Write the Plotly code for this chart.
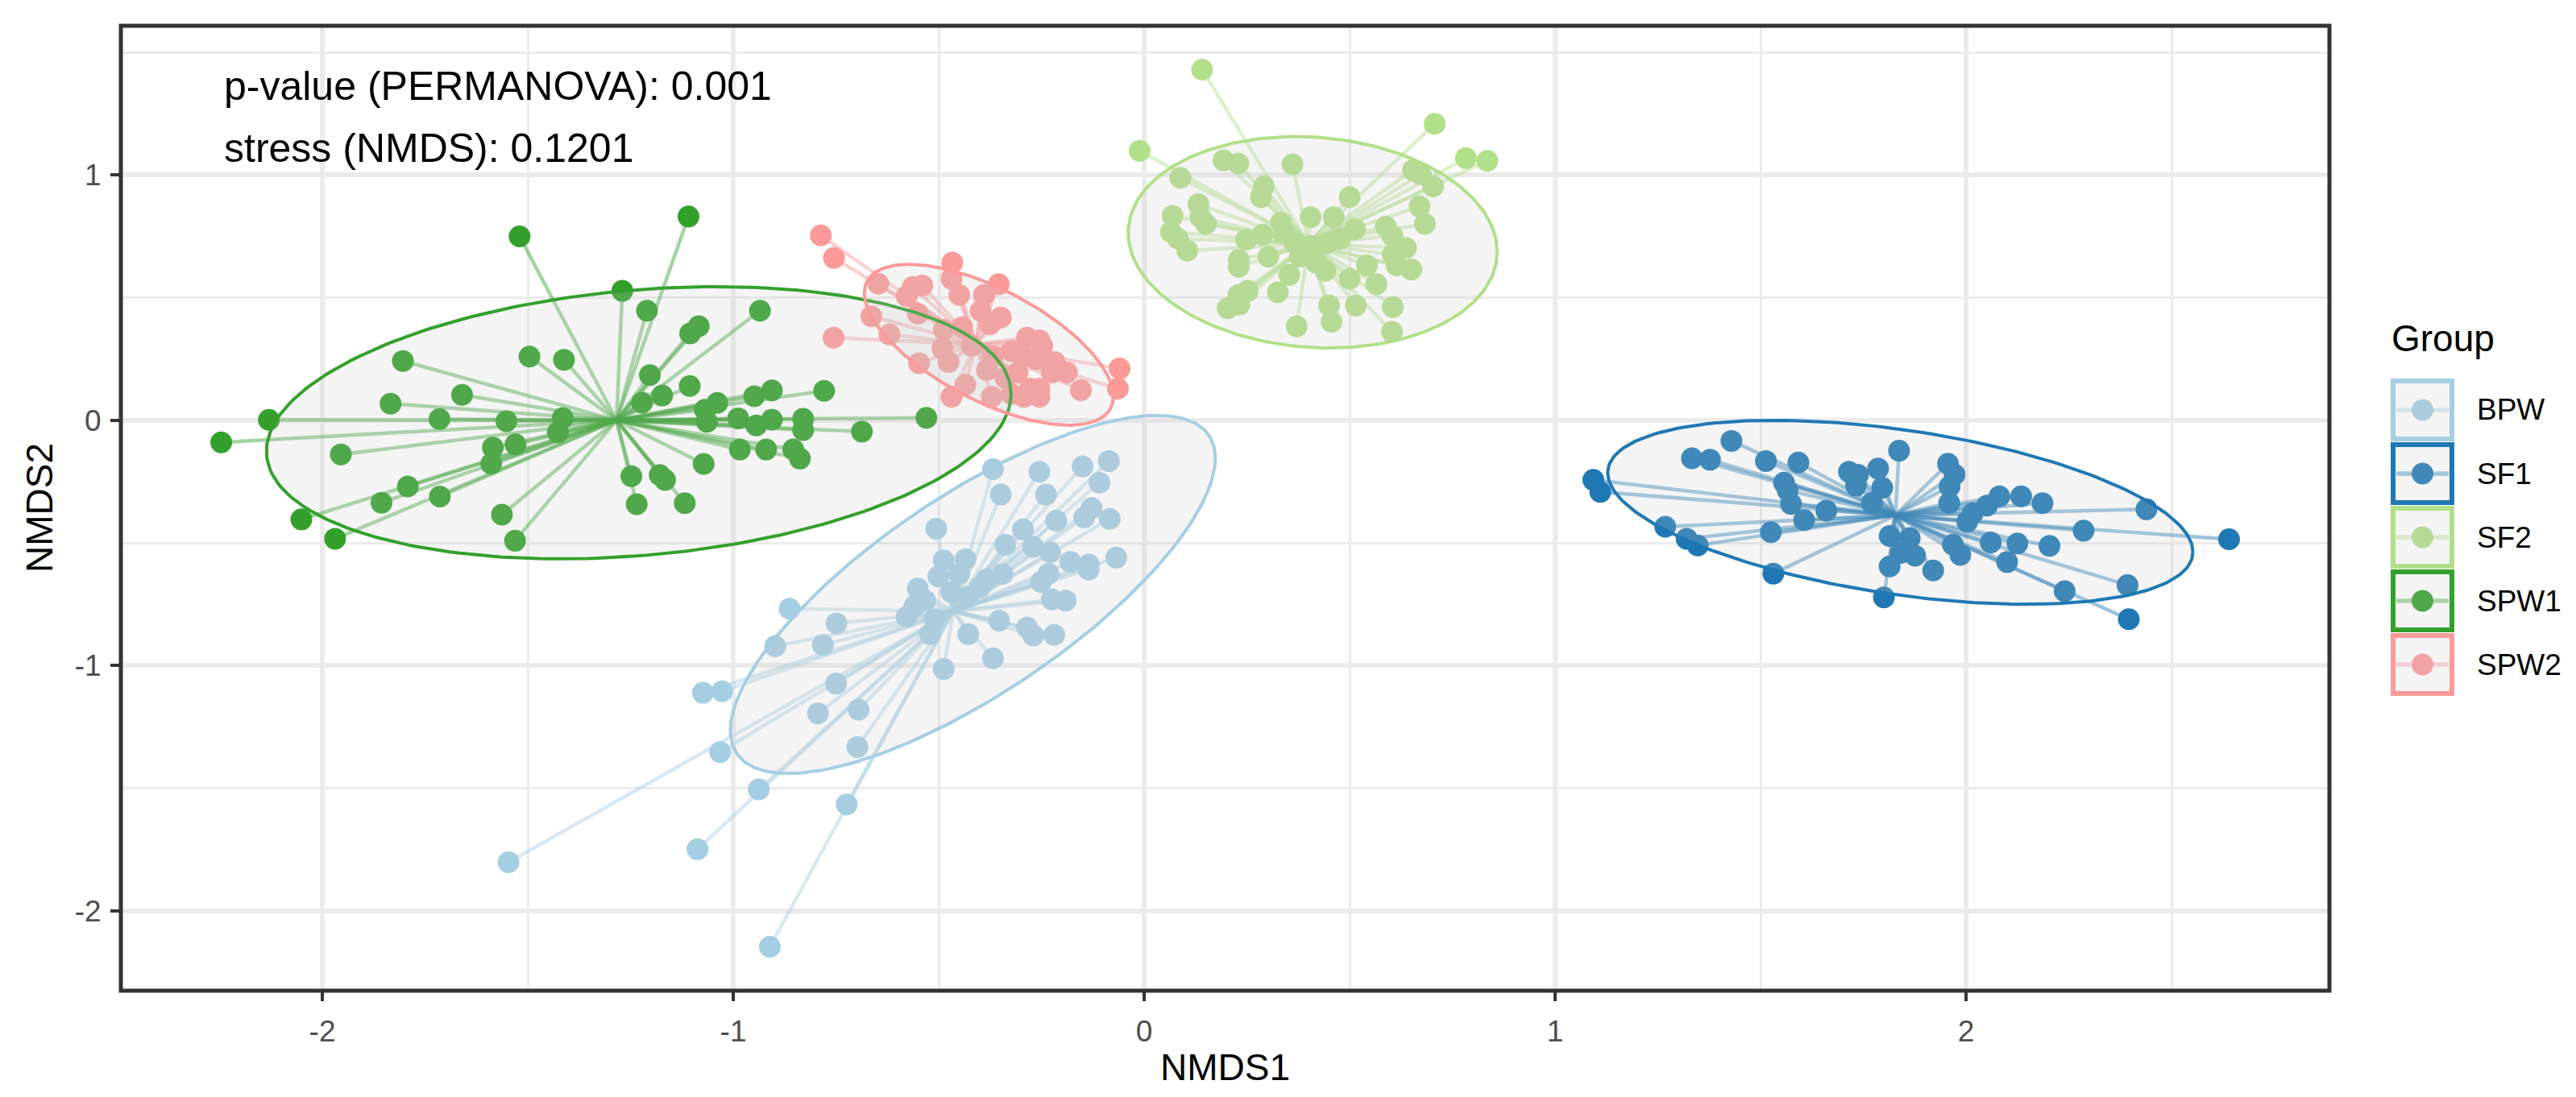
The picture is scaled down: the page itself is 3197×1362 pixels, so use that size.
"""NMDS ordination of sample groups with spiders and ellipses."""

import numpy as np
import plotly.graph_objects as go

# ── Data ──────────────────────────────────────────────────────────────────────

groups = ["BPW", "SF1", "SF2", "SPW1", "SPW2"]
colors = ["#A6CEE3", "#1F78B4", "#B2DF8A", "#33A02C", "#FB9A99"]

bpw_x = [-0.368, -0.255, -0.150, -0.086, -0.349, -0.239, -0.109, -0.214, -0.128, -0.146,
         -0.084, -0.506, -0.295, -0.338, -0.270, -0.229, -0.180, -0.135, -0.135, -0.068,
         -0.488, -0.435, -0.501, -0.450, -0.345, -0.383, -0.233, -0.251, -0.551, -0.225,
         -0.191, -0.428, -0.533, -0.559, -0.578, -0.510, -0.863, -0.749, -0.521, -0.353,
         -0.428, -0.285, -0.270, -0.219, -0.898, -0.782, -0.368, -0.488, -1.074, -1.027,
         -0.750, -0.794, -0.695, -1.032, -0.698, -1.547, -1.087, -0.938, -0.724, -0.911,
         -0.470, -0.400]
bpw_y = [-0.199, -0.210, -0.188, -0.166, -0.303, -0.303, -0.254, -0.409, -0.358, -0.396,
         -0.402, -0.442, -0.445, -0.508, -0.516, -0.538, -0.577, -0.588, -0.609, -0.560,
         -0.571, -0.566, -0.637, -0.626, -0.626, -0.648, -0.626, -0.659, -0.686, -0.730,
         -0.735, -0.719, -0.735, -0.757, -0.801, -0.812, -0.768, -0.828, -0.872, -0.817,
         -0.872, -0.845, -0.877, -0.875, -0.921, -0.916, -0.970, -1.014, -1.111, -1.105,
         -1.074, -1.195, -1.180, -1.353, -1.332, -1.802, -1.749, -1.505, -1.566, -2.147,
         -0.700, -0.680]

sf1_x = [1.093, 1.110, 1.429, 1.333, 1.377, 1.513, 1.592, 1.268, 1.320, 1.347,
         1.525, 1.531, 1.557, 1.566, 1.574, 1.606, 1.660, 1.715, 1.737, 1.786,
         1.837, 1.732, 1.796, 1.771, 1.956, 1.972, 1.960, 1.959, 1.814, 1.863,
         1.841, 1.876, 1.814, 1.920, 1.800, 1.968, 1.986, 2.003, 2.016, 2.051,
         2.060, 2.081, 2.134, 2.186, 2.125, 2.100, 2.203, 2.286, 2.439, 2.640,
         2.240, 2.393, 2.396]
sf1_y = [-0.243, -0.292, -0.084, -0.155, -0.161, -0.166, -0.172, -0.434, -0.483, -0.510,
         -0.456, -0.625, -0.254, -0.286, -0.341, -0.407, -0.368, -0.210, -0.222, -0.197,
         -0.124, -0.266, -0.275, -0.337, -0.177, -0.221, -0.270, -0.337, -0.472, -0.480,
         -0.541, -0.552, -0.596, -0.612, -0.722, -0.507, -0.549, -0.413, -0.380, -0.348,
         -0.498, -0.310, -0.310, -0.338, -0.502, -0.578, -0.512, -0.450, -0.363, -0.485,
         -0.697, -0.672, -0.811]

sf2_x = [0.141, -0.011, 0.707, 0.783, 0.835, 0.193, 0.229, 0.361, 0.088, 0.291,
         0.284, 0.500, 0.654, 0.673, 0.703, 0.132, 0.137, 0.069, 0.150, 0.065,
         0.082, 0.105, 0.670, 0.683, 0.333, 0.405, 0.461, 0.513, 0.588, 0.604,
         0.248, 0.288, 0.340, 0.230, 0.230, 0.302, 0.366, 0.405, 0.444, 0.477,
         0.379, 0.418, 0.637, 0.605, 0.614, 0.650, 0.441, 0.353, 0.500, 0.542,
         0.565, 0.252, 0.229, 0.203, 0.232, 0.325, 0.450, 0.456, 0.515, 0.605,
         0.371, 0.603]
sf2_y = [1.430, 1.099, 1.209, 1.069, 1.058, 1.060, 1.047, 1.044, 0.989, 0.954,
         0.910, 0.910, 1.020, 1.003, 0.954, 0.881, 0.828, 0.834, 0.801, 0.768,
         0.741, 0.692, 0.872, 0.801, 0.807, 0.828, 0.828, 0.779, 0.790, 0.752,
         0.736, 0.757, 0.763, 0.654, 0.626, 0.667, 0.722, 0.711, 0.722, 0.741,
         0.667, 0.643, 0.703, 0.675, 0.632, 0.615, 0.610, 0.593, 0.577, 0.632,
         0.555, 0.528, 0.511, 0.457, 0.473, 0.522, 0.468, 0.402, 0.468, 0.462,
         0.383, 0.361]

spw1_x = [-1.520, -1.109, -1.270, -1.210, -1.804, -1.496, -1.412, -1.203, -1.660, -1.834,
          -1.222, -1.173, -2.130, -1.715, -1.552, -1.415, -1.427, -2.246, -1.955, -1.585,
          -1.530, -1.589, -1.792, -1.856, -1.714, -2.051, -1.969, -1.563, -1.531, -1.248,
          -1.235, -1.179, -1.166, -1.118, -1.084, -1.105, -0.935, -1.106, -0.779, -0.906,
          -0.949, -1.039, -1.069, -1.064, -0.988, -0.944, -0.906, -0.830, -0.830, -0.530,
          -0.687, -0.984, -0.920, -0.854, -0.838, -1.072]
spw1_y = [0.750, 0.831, 0.528, 0.447, 0.242, 0.260, 0.247, 0.184, 0.104, 0.068,
          0.072, 0.101, 0.002, 0.005, -0.004, 0.009, -0.049, -0.090, -0.139, -0.111,
          -0.098, -0.177, -0.270, -0.336, -0.311, -0.404, -0.483, -0.385, -0.491, -0.228,
          -0.342, -0.223, -0.243, -0.338, 0.384, 0.354, 0.447, 0.140, 0.120, 0.122,
          0.098, 0.071, 0.043, -0.006, 0.008, -0.021, 0.003, 0.006, -0.040, 0.010,
          -0.046, -0.119, -0.119, -0.119, -0.156, -0.178]

spw2_x = [-0.787, -0.755, -0.647, -0.467, -0.354, -0.563, -0.540, -0.578, -0.469, -0.450,
          -0.390, -0.551, -0.664, -0.349, -0.398, -0.756, -0.620, -0.488, -0.443, -0.375,
          -0.285, -0.255, -0.248, -0.491, -0.476, -0.548, -0.420, -0.368, -0.323, -0.293,
          -0.263, -0.218, -0.188, -0.060, -0.064, -0.154, -0.435, -0.469, -0.383, -0.371,
          -0.338, -0.308, -0.278, -0.255, -0.255, -0.293, -0.323, -0.225]
spw2_y = [0.754, 0.662, 0.557, 0.643, 0.555, 0.544, 0.550, 0.506, 0.577, 0.511,
          0.511, 0.435, 0.424, 0.419, 0.446, 0.337, 0.350, 0.369, 0.380, 0.391,
          0.337, 0.326, 0.304, 0.293, 0.238, 0.233, 0.304, 0.260, 0.282, 0.260,
          0.249, 0.238, 0.195, 0.211, 0.129, 0.123, 0.145, 0.096, 0.205, 0.096,
          0.173, 0.195, 0.129, 0.096, 0.129, 0.096, 0.107, 0.195]

# group centroids (spider hubs)
centroid_x = [-0.465, 1.828, 0.400, -1.284, -0.410]
centroid_y = [-0.779, -0.387, 0.720, 0.000, 0.310]

# ellipse: centre, half-extent along x and y, correlation term
ell_cx = [-0.417, 1.840, 0.410, -1.230, -0.378]
ell_cy = [-0.710, -0.375, 0.726, -0.010, 0.308]
ell_rx = [0.590, 0.712, 0.449, 0.906, 0.303]
ell_ry = [0.730, 0.375, 0.431, 0.555, 0.328]
ell_rho = [0.76, -0.43, -0.09, 0.21, -0.643]

x_tick_vals = [-2, -1, 0, 1, 2]
x_tick_text = ["-2", "-1", "0", "1", "2"]
y_tick_vals = [-2, -1, 0, 1]
y_tick_text = ["-2", "-1", "0", "1"]

stats_text = ["p-value (PERMANOVA): 0.001", "stress (NMDS): 0.1201"]

points_x = [bpw_x, sf1_x, sf2_x, spw1_x, spw2_x]
points_y = [bpw_y, sf1_y, sf2_y, spw1_y, spw2_y]

# ── Styling ───────────────────────────────────────────────────────────────────

_FONT = "Liberation Sans, Arial, Helvetica, sans-serif"
_W, _H = 3197, 1362          # page size
_OFF = 8                     # default body margin of the html page
_FW, _FH = _W - 2 * _OFF, _H - 2 * _OFF
# panel edges in page pixels
_PL, _PR, _PT, _PB = 150, 2891, 32, 1230
_ELL_FILL = "rgba(200,200,200,0.2)"


def _rgba(hex_color, alpha):
    h = hex_color.lstrip("#")
    r, g, b = int(h[0:2], 16), int(h[2:4], 16), int(h[4:6], 16)
    return f"rgba({r},{g},{b},{alpha})"


def _px(x):
    # page pixel column -> paper x
    return (x - _PL) / (_PR - _PL)


def _py(y):
    # page pixel row -> paper y
    return (_PB - y) / (_PB - _PT)


fig = go.Figure()

# spiders
for g, col, xs, ys, cx, cy in zip(groups, colors, points_x, points_y, centroid_x, centroid_y):
    sx, sy = [], []
    for x, y in zip(xs, ys):
        sx += [cx, x, None]
        sy += [cy, y, None]
    fig.add_trace(go.Scatter(x=sx, y=sy, mode="lines",
                             line=dict(color=_rgba(col, 0.45), width=4.5),
                             hoverinfo="skip", showlegend=False))

# points
for g, col, xs, ys in zip(groups, colors, points_x, points_y):
    fig.add_trace(go.Scatter(x=xs, y=ys, mode="markers", name=g,
                             marker=dict(color=col, size=27, line=dict(width=0)),
                             showlegend=False))

# ellipses
t = np.linspace(0, 2 * np.pi, 240)
for g, col, cx, cy, rx, ry, rho in zip(groups, colors, ell_cx, ell_cy, ell_rx, ell_ry, ell_rho):
    ex = cx + rx * np.cos(t)
    ey = cy + ry * (rho * np.cos(t) + np.sqrt(1 - rho ** 2) * np.sin(t))
    fig.add_trace(go.Scatter(x=ex, y=ey, mode="lines", fill="toself",
                             fillcolor=_ELL_FILL, line=dict(color=col, width=4),
                             hoverinfo="skip", showlegend=False))

# axis ranges with ggplot's 5 % expansion
all_x = np.concatenate(points_x)
all_y = np.concatenate(points_y)
xpad = 0.05 * (all_x.max() - all_x.min())
ypad = 0.05 * (all_y.max() - all_y.min())

axis_common = dict(
    ticks="outside", ticklen=12, tickwidth=4, tickcolor="#333333",
    tickfont=dict(size=37, color="#4D4D4D", family=_FONT),
    showgrid=True, gridcolor="#EBEBEB", gridwidth=5.5,
    zeroline=False, showline=False, automargin=False,
    minor=dict(dtick=0.5, tick0=0, showgrid=True, gridcolor="#EBEBEB", gridwidth=3, ticks=""),
)

fig.update_layout(
    width=_FW, height=_FH,
    margin=dict(l=_PL - _OFF, r=_FW + _OFF - _PR, t=_PT - _OFF, b=_FH + _OFF - _PB,
                autoexpand=False),
    paper_bgcolor="white", plot_bgcolor="white",
    showlegend=False,
    font=dict(family=_FONT, color="black"),
    xaxis=dict(range=[all_x.min() - xpad, all_x.max() + xpad],
               tickvals=x_tick_vals, ticktext=x_tick_text, ticklabelstandoff=6,
               **axis_common),
    yaxis=dict(range=[all_y.min() - ypad, all_y.max() + ypad],
               tickvals=y_tick_vals, ticktext=y_tick_text, ticklabelstandoff=4,
               **axis_common),
)

annotations = [
    dict(text=stats_text[0], x=-2.243, y=1.362, xref="x", yref="y",
         xanchor="left", yanchor="middle", showarrow=False,
         font=dict(size=50, color="black", family=_FONT)),
    dict(text=stats_text[1], x=-2.243, y=1.110, xref="x", yref="y",
         xanchor="left", yanchor="middle", showarrow=False,
         font=dict(size=50, color="black", family=_FONT)),
    dict(text="NMDS1", x=0.5, y=_py(1325), xref="paper", yref="paper",
         xanchor="center", yanchor="middle", showarrow=False,
         font=dict(size=46, color="black", family=_FONT)),
    dict(text="NMDS2", x=_px(49), y=0.5, xref="paper", yref="paper", textangle=-90,
         xanchor="center", yanchor="middle", showarrow=False,
         font=dict(size=46, color="black", family=_FONT)),
    dict(text="Group", x=_px(2966), y=_py(420), xref="paper", yref="paper",
         xanchor="left", yanchor="middle", showarrow=False,
         font=dict(size=46, color="black", family=_FONT)),
]

# panel border
shapes = [dict(type="rect", xref="paper", yref="paper", x0=0, x1=1, y0=0, y1=1,
               line=dict(color="#333333", width=5), fillcolor="rgba(0,0,0,0)", layer="above")]

# hand-built legend keys (box + segment + point, like ggplot's polygon keys)
key_top, key_pitch, key_h = 470, 79, 78
for i, (g, col) in enumerate(zip(groups, colors)):
    top = key_top + i * key_pitch
    mid = top + key_h / 2
    shapes.append(dict(type="line", xref="paper", yref="paper",
                       x0=_px(2974), x1=_px(3039), y0=_py(mid), y1=_py(mid),
                       line=dict(color=_rgba(col, 0.45), width=5.5), layer="above"))
    shapes.append(dict(type="circle", xref="paper", yref="paper",
                       xsizemode="pixel", ysizemode="pixel",
                       xanchor=_px(3006.5), yanchor=_py(mid),
                       x0=-13.5, x1=13.5, y0=-13.5, y1=13.5,
                       fillcolor=col, line=dict(width=0), layer="above"))
    shapes.append(dict(type="rect", xref="paper", yref="paper",
                       x0=_px(2970), x1=_px(3043), y0=_py(top + 3), y1=_py(top + key_h - 3),
                       line=dict(color=col, width=6), fillcolor=_ELL_FILL, layer="above"))
    annotations.append(dict(text=g, x=_px(3072), y=_py(mid), xref="paper", yref="paper",
                            xanchor="left", yanchor="middle", showarrow=False,
                            font=dict(size=37, color="black", family=_FONT)))

fig.update_layout(shapes=shapes, annotations=annotations)

fig.write_html("out.html")
